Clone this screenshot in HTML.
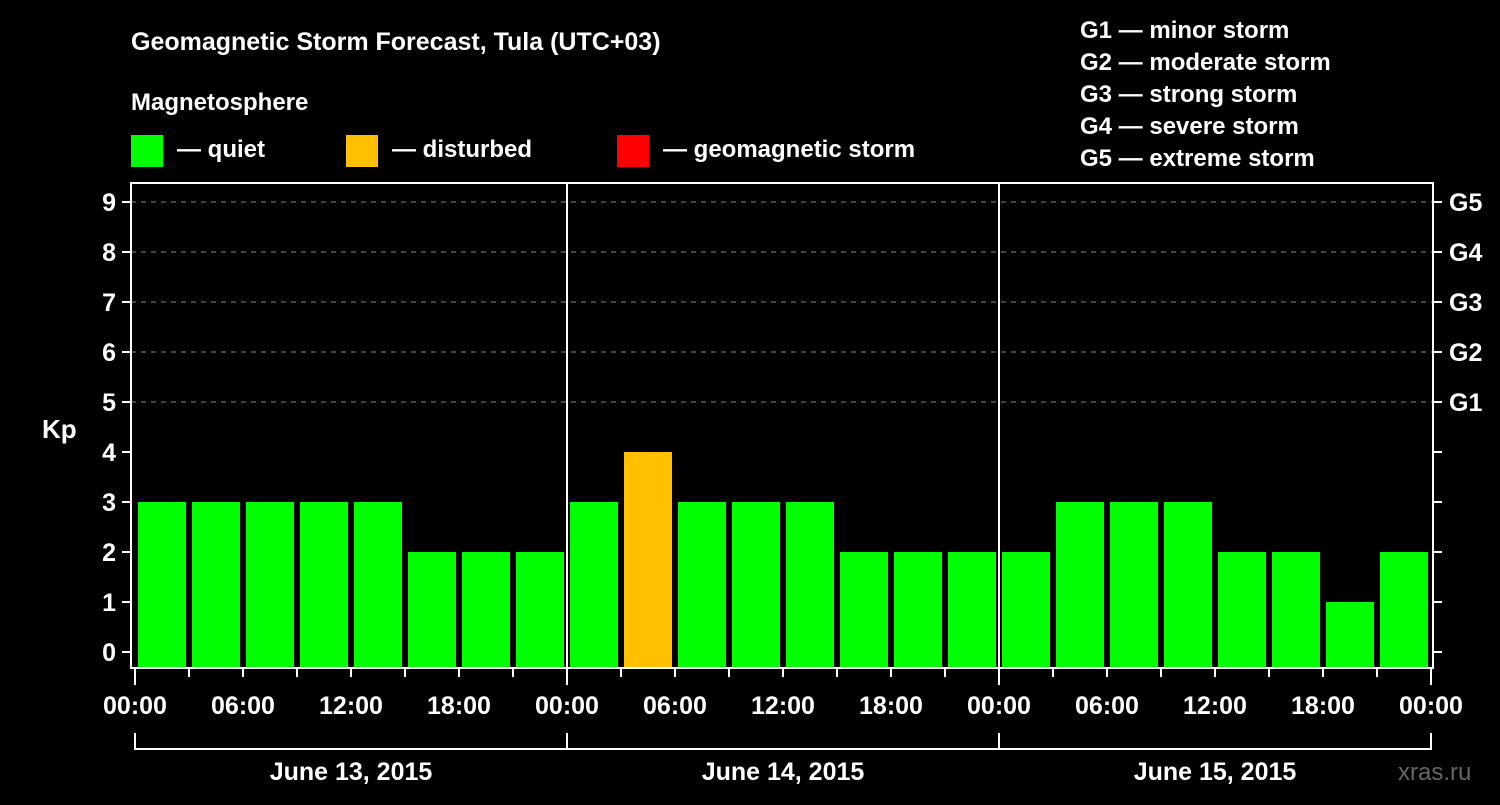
<!DOCTYPE html>
<html><head><meta charset="utf-8"><style>
body{margin:0;background:#000;width:1500px;height:800px;overflow:hidden}
svg text{font-family:"Liberation Sans",Arial,sans-serif;font-weight:bold}
</style></head><body>
<svg id="c" width="1500" height="800" fill="#fff">
<text x="131" y="50" font-size="25">Geomagnetic Storm Forecast, Tula (UTC+03)</text>
<text x="131" y="110" font-size="24">Magnetosphere</text>
<rect x="131" y="135" width="32" height="32" fill="#00ff00"/>
<text x="177" y="157" font-size="24">— quiet</text>
<rect x="346" y="135" width="32" height="32" fill="#ffc000"/>
<text x="392" y="157" font-size="24">— disturbed</text>
<rect x="617" y="135" width="32" height="32" fill="#ff0000"/>
<text x="663" y="157" font-size="24">— geomagnetic storm</text>
<g font-size="24">
<text x="1080" y="38">G1 — minor storm</text>
<text x="1080" y="70">G2 — moderate storm</text>
<text x="1080" y="102">G3 — strong storm</text>
<text x="1080" y="134">G4 — severe storm</text>
<text x="1080" y="166">G5 — extreme storm</text>
</g>
<text x="42" y="438" font-size="26">Kp</text>
<text x="1398" y="780" font-size="24" fill="#666" style="font-weight:normal">xras.ru</text>
<g id="plot"></g>
</svg>
<script>
const kpValues=[3,3,3,3,3,2,2,2, 3,4,3,3,3,2,2,2, 2,3,3,3,2,2,1,2];
const dayLabels=["June 13, 2015","June 14, 2015","June 15, 2015"];
const hourLabels=["00:00","06:00","12:00","18:00"];
const yTicks=[0,1,2,3,4,5,6,7,8,9];
const gLabels=["G1","G2","G3","G4","G5"];
const ns="http://www.w3.org/2000/svg";
const plotG=document.getElementById('plot');
const x0=135,slot=54,yBase=652,unit=50,pTop=183,pBot=668,pLeft=131,pRight=1433;
const X=i=>x0+i*slot, Y=v=>yBase-v*unit;
function mk(t,a,txt){const e=document.createElementNS(ns,t);for(const k in a)e.setAttribute(k,a[k]);if(txt!==undefined)e.textContent=txt;plotG.appendChild(e);return e;}
yTicks.forEach(v=>{
 if(v>=5){const l=mk('line',{x1:pLeft,x2:pRight,y1:Y(v),y2:Y(v),stroke:'#888','stroke-width':1,'stroke-dasharray':'5,5'});
 
 }
 const t=mk('line',{x1:pLeft-9,x2:pLeft,y1:Y(v),y2:Y(v),stroke:'#fff','stroke-width':2});
 
 
 const t2=mk('line',{x1:pRight,x2:pRight+9,y1:Y(v),y2:Y(v),stroke:'#fff','stroke-width':2});
 
 
 const lb=mk('text',{x:116,y:Y(v)+9,'font-size':25,'text-anchor':'end'},String(v));
 
 
});
gLabels.forEach((s,i)=>{
 const lb=mk('text',{x:1449,y:Y(5+i)+9,'font-size':25},s);
 
 
});
kpValues.forEach((v,i)=>{
 const c=v>=5?'#ff0000':(v>=4?'#ffc000':'#00ff00');
 const r=mk('rect',{x:X(i)+3,y:Y(v),width:48,height:pBot-Y(v),fill:c});
 
 
});
const fr=mk('rect',{x:pLeft,y:pTop,width:pRight-pLeft,height:pBot-pTop,fill:'none',stroke:'#fff','stroke-width':2});


for(let i=0;i<=kpValues.length;i++){
 const day=i%8===0;
 const t=mk('line',{x1:X(i),x2:X(i),y1:pBot,y2:pBot+(day?17:9),stroke:'#fff','stroke-width':2});
 
 
 if(day&&i>0&&i<kpValues.length){const d=mk('line',{x1:X(i),x2:X(i),y1:pTop,y2:pBot,stroke:'#fff','stroke-width':2});
 
 }
 if(i%2===0){const lb=mk('text',{x:X(i),y:714,'font-size':25,'text-anchor':'middle'},hourLabels[(i/2)%4]);
 
 }
}
const br=mk('path',{d:`M${X(0)} 733V749H${X(24)}V733M${X(8)} 733V749M${X(16)} 733V749`,fill:'none',stroke:'#fff','stroke-width':2});


dayLabels.forEach((s,i)=>{
 const lb=mk('text',{x:X(i*8+4),y:780,'font-size':25,'text-anchor':'middle'},s);
 
 
});
</script>
</body></html>
